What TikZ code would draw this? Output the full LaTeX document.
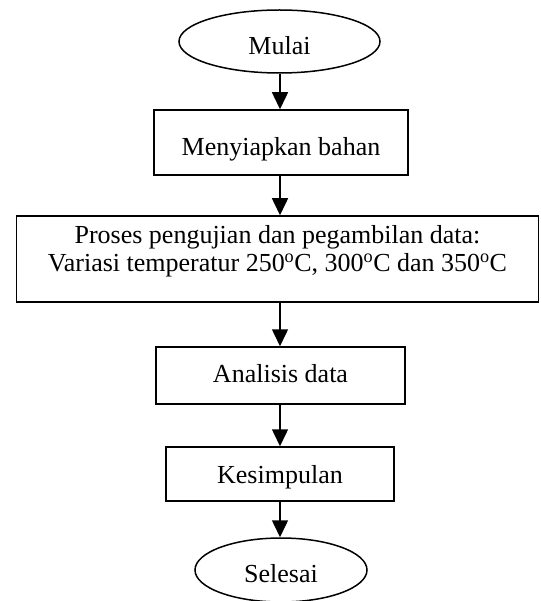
\documentclass[tikz,border=0pt]{standalone}
\usepackage{fontspec}
\setmainfont{Liberation Serif}
\usetikzlibrary{shapes.geometric,arrows.meta}
\begin{document}
\begin{tikzpicture}[x=1pt,y=-1pt,
  every node/.style={font=\fontsize{26}{28}\selectfont},
  term/.style={draw,line width=1.5pt,ellipse,inner sep=0pt},
  proc/.style={draw,line width=1.5pt,rectangle,inner sep=0pt,align=center},
  flow/.style={line width=1.5pt,-{Triangle[length=17pt,width=16pt]}}]
\useasboundingbox (0,0) rectangle (540,601);
\coordinate (axis) at (280,0);
\node[term,minimum width=201pt,minimum height=63pt,text height=26.2pt,text depth=0pt] (start) at (279.5,41.5) {Mulai};
\node[proc,minimum width=254pt,minimum height=65pt,text height=25.2pt,text depth=0pt] (prep) at (281,142.5) {Menyiapkan bahan};
\node[proc,minimum width=522pt,minimum height=86pt,text height=45.2pt,text depth=21pt] (test) at (277.5,259) {Proses pengujian dan pegambilan data:\\Variasi temperatur 250\textsuperscript{o}C, 300\textsuperscript{o}C dan 350\textsuperscript{o}C};
\node[proc,minimum width=249pt,minimum height=57pt,text height=17.2pt,text depth=3pt] (anal) at (280.5,375.5) {Analisis data};
\node[proc,minimum width=228pt,minimum height=54pt,text height=19.2pt,text depth=0pt] (kes) at (280,474) {Kesimpulan};
\node[term,minimum width=172pt,minimum height=64pt,text height=25.2pt,text depth=0pt] (finish) at (281,570) {Selesai};
\draw[flow] (start.south -| axis) -- (prep.north -| axis);
\draw[flow] (prep.south -| axis) -- (test.north -| axis);
\draw[flow] (test.south -| axis) -- (anal.north -| axis);
\draw[flow] (anal.south -| axis) -- (kes.north -| axis);
\draw[flow] (kes.south -| axis) -- (finish.north -| axis);
\end{tikzpicture}
\end{document}
